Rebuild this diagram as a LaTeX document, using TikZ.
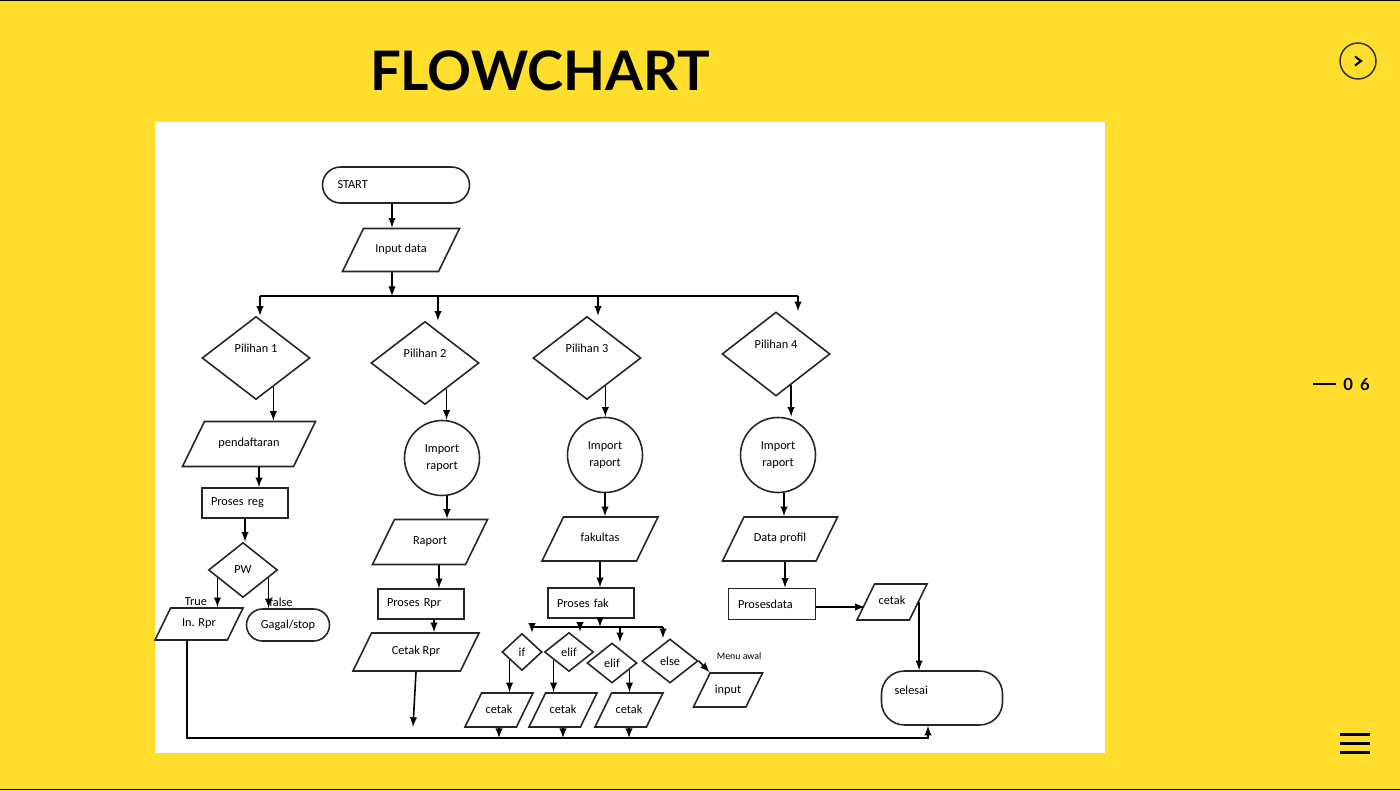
\documentclass[tikz,border=0pt]{standalone}
\usepackage{fontspec}
\setmainfont{Carlito}
\newfontfamily\latofont{Lato}
\usepackage{tikz}
\usetikzlibrary{arrows,shapes}
\definecolor{slide}{RGB}{255,222,46}
\tikzset{ %inner sep = 0.5mm,
  >=latex,
  {base shape/.style} ={draw=black!85, line width=0.9pt, inner sep=0.5mm,
                        font=\fontsize{7}{10}\selectfont},
  % height comes from inner ysep, so the slant stays the same
  {io box/.style} ={base shape, trapezium, trapezium left angle=64,
                    trapezium right angle=116, trapezium stretches body=true,
                    text height=1.8mm, text depth=0.6mm},
  {proc box/.style} ={base shape, rectangle, minimum width=17.2mm,
                      minimum height=6mm, text width=13.6mm, align=left,
                      inner xsep=1.8mm},
  {choice/.style} ={base shape, diamond, inner sep=0},
  {raised/.style} ={text height=1.8mm, text depth=4mm},
  {import point/.style} ={base shape, circle, minimum size=15mm, align=center},
  terminal/.style ={base shape, rectangle, rounded corners=#1},
  terminal/.default = 3.2mm,
  flow/.style ={line width=0.9pt, ->},
  {bus line/.style} ={line width=0.9pt},
  lbl/.style ={font=\fontsize{7}{8}\selectfont, inner sep=1pt},
  {small lbl/.style} ={font=\fontsize{5.6}{6}\selectfont, inner sep=0},
}

\begin{document}
\begin{tikzpicture}[x=0.2mm, y=-0.2mm]

% slide
\useasboundingbox (0,0) rectangle (1400,791);
\fill[slide] (0,0) rectangle (1400,791);
\draw[line width=0.3mm] (0,0.7) -- (1400,0.7);
\draw[line width=0.3mm] (0,789.5) -- (1400,789.5);
\fill[white] (155,122) rectangle (1105,753);
\node[font=\latofont\bfseries\fontsize{31}{31}\selectfont] (title) at (540,71) {FLOWCHART};

% navigation
\node[circle, draw=black!80, line width=0.3mm, minimum size=7.2mm, inner sep=0] (next) at (1358,61) {};
\draw[line width=0.4mm] ([xshift=-0.6mm, yshift=0.9mm]next.center) -- ([xshift=0.6mm]next.center)
  -- ([xshift=-0.6mm, yshift=-0.9mm]next.center);
\node[font=\latofont\bfseries\fontsize{9.5}{10}\selectfont, anchor=west, inner sep=0] (page) at (1343,384) {0\hspace{1.4mm}6};
\draw[line width=0.4mm] ([xshift=-6mm]page.west) -- ([xshift=-1.4mm]page.west);
\foreach \y in {734,743,752}
  \draw[line width=0.6mm] (1340,\y) -- (1370,\y);

% top of the chart
\node[terminal=3.6mm, minimum width=29.4mm, minimum height=7.2mm, text width=23.4mm,
      align=left, inner xsep=3mm] (start) at (396,185) {START};
\node[io box, minimum width=23.4mm, inner ysep=3.1mm] (inp) at (401,250) {Input data};
\coordinate (bus1) at (392,296);
\coordinate (d1) at (260,296);
\coordinate (d2) at (438,296);
\coordinate (d3) at (598,296);
\coordinate (d4) at (798,296);
\node[choice, raised, minimum width=21.6mm, minimum height=16.6mm] (p1) at (256,358) {Pilihan 1};
\node[choice, raised, minimum width=21.6mm, minimum height=16.6mm] (p2) at (425,363) {Pilihan 2};
\node[choice, raised, minimum width=21.6mm, minimum height=16.6mm] (p3) at (587,358) {Pilihan 3};
\node[choice, raised, minimum width=21.6mm, minimum height=16.8mm] (p4) at (776,354) {Pilihan 4};

\draw[flow] (bus1 |- start.south) -- (bus1 |- inp.north);
\draw[flow] (bus1 |- inp.south) -- (bus1);
\draw[bus line] (d1) -- (d4);
\foreach \d/\p in {d1/p1, d2/p2, d3/p3, d4/p4}
  \draw[flow] (\d) -- (\d |- \p.north);

% pilihan 1
\node[io box, minimum width=26.6mm, inner ysep=3.3mm] (pen) at (249,444) {pendaftaran};
\node[proc box] (reg) at (245,503) {Proses reg};
\node[choice, minimum width=13.8mm, minimum height=11mm] (pw) at (243,570) {PW};
\node[io box, minimum width=17.6mm, inner ysep=2mm] (inrpr) at (199,624) {In. Rpr};
\node[terminal, minimum width=16.6mm, minimum height=6.4mm] (gagal) at (288,625) {Gagal/stop};

\draw[flow] (p1.-59) -- (p1.-59 |- pen.north);
\draw[flow] ([xshift=2mm]pen.south) -- ([xshift=2mm]pen.south |- reg.north);
\draw[flow] (reg.south) -- (reg.south |- pw.north);
\draw[flow] (pw.-163) -- (pw.-163 |- inrpr.north) node[lbl, pos=0.8, left=1.6mm] {True};
\draw[flow] (pw.-17) -- (pw.-17 |- gagal.north) node[lbl, pos=0.8, right=-1pt] {false};

% pilihan 2
\node[import point] (imp2) at (442,458) {Import\\raport};
\node[io box, minimum width=23mm, inner ysep=3.3mm] (rap) at (430,542) {Raport};
\node[proc box] (rpr) at (421,604) {Proses Rpr};
\node[io box, minimum width=25.2mm, inner ysep=2.6mm] (crp) at (416,652) {Cetak Rpr};
\coordinate (end2) at (413,727);

\draw[flow] (p2.-50) -- (p2.-50 |- imp2.north);
\draw[flow] ([xshift=1mm]imp2.south) -- ([xshift=1mm]imp2.south |- rap.north);
\draw[flow] ([xshift=1.8mm]rap.south) -- ([xshift=1.8mm]rap.south |- rpr.north);
\draw[flow] ([xshift=2.6mm]rpr.south) -- ([xshift=2.6mm]rpr.south |- crp.north);
\draw[flow] (crp.south) -- (end2);

% pilihan 3
\node[import point] (imp3) at (605,455) {Import\\raport};
\node[io box, minimum width=23.2mm, inner ysep=3.2mm] (fak) at (600,539) {fakultas};
\node[proc box] (pfak) at (591,603) {Proses fak};
\coordinate (bus3) at (600,627);
\coordinate (e1) at (532,627);
\coordinate (e2) at (580,627);
\coordinate (e3) at (620,627);
\coordinate (e4) at (663,627);
\node[choice, minimum width=8mm, minimum height=7.4mm] (ifd) at (522,652) {if};
\node[choice, minimum width=9.8mm, minimum height=7.8mm] (el1) at (569,652) {elif};
\node[choice, minimum width=10mm, minimum height=8mm] (el2) at (612,663) {elif};
\node[choice, minimum width=11.2mm, minimum height=8.8mm] (els) at (670,661) {else};
\node[io box, minimum width=13.8mm, inner ysep=2.2mm] (inpt) at (728,690) {input};
\node[io box, minimum width=13.6mm, inner ysep=2.2mm] (c1) at (499,710) {cetak};
\node[io box, minimum width=13.6mm, inner ysep=2.2mm] (c2) at (563,710) {cetak};
\node[io box, minimum width=13.6mm, inner ysep=2.2mm] (c3) at (629,710) {cetak};

\draw[flow] (p3.-57) -- (p3.-57 |- imp3.north);
\draw[flow] (imp3.south) -- (imp3.south |- fak.north);
\draw[flow] (fak.south) -- (fak.south |- pfak.north);
\draw[flow] ([xshift=1.8mm]pfak.south) -- (bus3);
\draw[bus line] (e1) -- (e4);
\foreach \e/\q in {e1/ifd, e2/el1, e3/el2, e4/els}
  \draw[flow] (\e) -- (\e |- \q.north);
\draw[flow] (ifd.-148) -- (ifd.-148 |- c1.north);
\draw[flow] (el1.-153) -- (el1.-153 |- c2.north);
\draw[flow] (el2.-21) -- (el2.-21 |- c3.north);
\draw[flow] (els.east) -- (inpt.top left corner)
  node[small lbl, pos=1, anchor=south west, xshift=1.3mm, yshift=2.4mm] {Menu awal};

% pilihan 4
\node[import point] (imp4) at (778,455) {Import\\raport};
\node[io box, minimum width=23mm, inner ysep=3.2mm] (dat) at (780,539) {Data profil};
\node[proc box, minimum width=17.4mm, minimum height=6.2mm] (pdat) at (772,604) {Prosesdata};
\node[io box, minimum width=14mm, inner ysep=2.4mm] (c4) at (892,602) {cetak};
\node[terminal=4.6mm, minimum width=24.2mm, minimum height=10.8mm, text width=19mm,
      align=left, inner xsep=2.6mm, text height=1.6mm, text depth=3.2mm] (sel) at (942,698) {selesai};

\draw[flow] (p4.-64) -- (p4.-64 |- imp4.north);
\draw[flow] ([xshift=1.2mm]imp4.south) -- ([xshift=1.2mm]imp4.south |- dat.north);
\draw[flow] ([xshift=1mm]dat.south) -- ([xshift=1mm]dat.south |- pdat.north);
\draw[flow] ([yshift=-0.6mm]pdat.east) -- ([yshift=-0.6mm]pdat.east -| c4.west);
\draw[flow] (c4.east) -- (c4.east |- sel.north);

% back to selesai
\coordinate (bot) at (928,738);
\foreach \c in {c1,c2,c3}
  \draw[flow] (\c.south) -- (\c.south |- bot);
\draw[flow] ([xshift=-2.4mm]inrpr.south) |- (bot) -- (bot |- sel.south);

\end{tikzpicture}
\end{document}
